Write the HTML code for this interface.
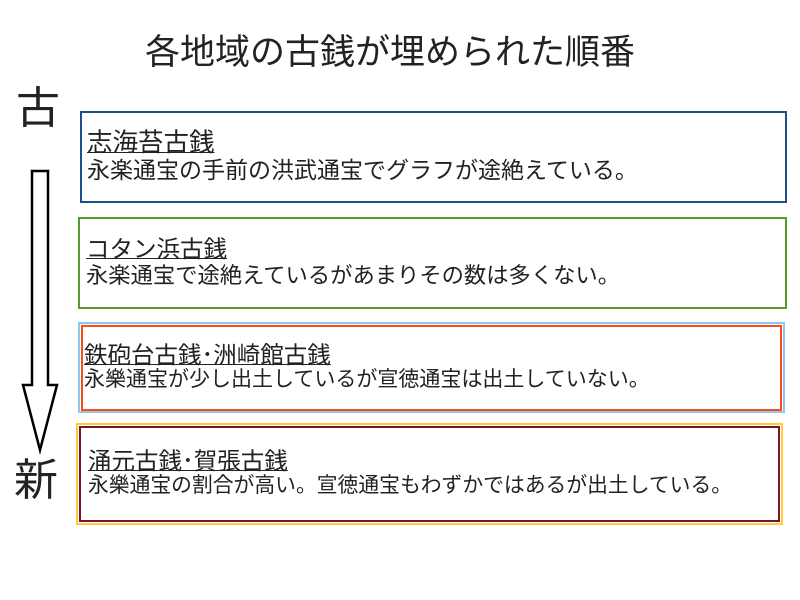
<!DOCTYPE html>
<html><head><meta charset="utf-8"><style>
body{margin:0;width:800px;height:600px;background:#fff;position:relative;overflow:hidden;font-family:"Liberation Sans","Noto Sans CJK JP",sans-serif;color:#222}
.a{position:absolute;box-sizing:border-box}
.t{position:absolute;line-height:24px;white-space:nowrap}
.u{text-decoration:underline;text-decoration-thickness:1px}
</style></head><body>
<div class="a" style="left:145px;top:33px;font-size:35px;line-height:40px;white-space:nowrap">各地域の古銭が埋められた順番</div>
<div class="a" style="left:16px;top:82px;font-size:44px;line-height:54px">古</div>
<div class="a" style="left:14px;top:454px;font-size:44px;line-height:54px">新</div>
<svg class="a" style="left:0;top:0" width="80" height="600"><path d="M32 171 H48 V385 H57 L40 450 L23 385 H32 Z" fill="#fff" stroke="#000" stroke-width="2.5" stroke-linejoin="miter"/></svg>

<div class="a" style="left:80px;top:111px;width:707px;height:92px;border:2.5px solid #1f4e8c"></div>
<div class="t u" style="left:87px;top:131px;font-size:25.5px">志海苔古銭</div>
<div class="t" style="left:87px;top:158px;font-size:23px">永楽通宝の手前の洪武通宝でグラフが途絶えている。</div>

<div class="a" style="left:78px;top:217px;width:709px;height:92px;border:2.5px solid #5a9a2a"></div>
<div class="t u" style="left:86px;top:237px;font-size:23.5px">コタン浜古銭</div>
<div class="t" style="left:86px;top:264px;font-size:22.3px">永楽通宝で途絶えているがあまりその数は多くない。</div>

<div class="a" style="left:78px;top:322px;width:707px;height:91px;border:2.5px solid #8cc8f0"></div>
<div class="a" style="left:81px;top:325px;width:701px;height:86px;border:2.5px solid #ff4a1a"></div>
<div class="t u" style="left:84px;top:343px;font-size:23.5px">鉄砲台古銭･洲崎館古銭</div>
<div class="t" style="left:84px;top:368px;font-size:21px">永樂通宝が少し出土しているが宣徳通宝は出土していない。</div>

<div class="a" style="left:76px;top:423px;width:707px;height:102px;border:2.5px solid #ffcc33"></div>
<div class="a" style="left:79px;top:426px;width:701px;height:96px;border:2.5px solid #7a1030"></div>
<div class="t u" style="left:88px;top:449px;font-size:23.5px">涌元古銭･賀張古銭</div>
<div class="t" style="left:88px;top:474px;font-size:20.8px">永樂通宝の割合が高い。宣徳通宝もわずかではあるが出土している。</div>
</body></html>
